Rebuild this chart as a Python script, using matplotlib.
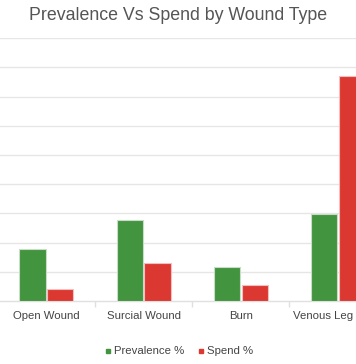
import matplotlib
matplotlib.use("Agg")
import matplotlib.pyplot as plt
import matplotlib.transforms as mtransforms
import numpy as np

plt.rcParams['font.family'] = ['Liberation Sans', 'DejaVu Sans']

categories = ["Open Wound", "Surcial Wound", "Burn", "Venous Leg"]
prevalence = [8.9, 13.9, 5.8, 14.9]
spend = [2.0, 6.5, 2.8, 38.5]
series_names = ["Prevalence %", "Spend %"]
colors = ["#43943f", "#dc3832"]

fig = plt.figure(figsize=(3.56, 3.64), dpi=100)
ax = fig.add_axes([0, (364 - 301) / 364, 1, (301 - 38.3) / 364])

x = np.arange(len(categories))
w = 0.27
off = 0.143
ax.bar(x - off, prevalence, w, color=colors[0], edgecolor="#c8dcc8", linewidth=0.8, zorder=3)
ax.bar(x + off, spend, w, color=colors[1], edgecolor="#f0c0c0", linewidth=0.8, zorder=3)

ax.set_yticks(np.arange(5, 46, 5))
ax.yaxis.grid(True, color="#e6e6e6", linewidth=1, zorder=0)
ax.tick_params(axis='y', length=0, labelleft=False)
for s in ["left", "right", "top"]:
    ax.spines[s].set_visible(False)
ax.spines["bottom"].set_color("#e0e0e0")
ax.spines["bottom"].set_linewidth(1)

ax.set_xticks(x + 0.5, minor=False)
ax.set_xticklabels([])
ax.tick_params(axis='x', length=4, color="#e0e0e0", width=1)
ax.set_xlim(-0.477, 3.185)
ax.set_ylim(0, 45)
label_y = 1 - 316 / 364
blend = mtransforms.blended_transform_factory(ax.transData, fig.transFigure)
for i, c in enumerate(categories):
    if i == len(categories) - 1:
        fig.text(353 / 356, label_y, c, ha="right", va="center", fontsize=8.2, color="#444444")
    else:
        ax.text(i, label_y, c, ha="center", va="center", fontsize=8.2, color="#444444",
                transform=blend)

fig.text(0.5, 1 - 16 / 364, "Prevalence Vs Spend by Wound Type", ha="center", va="center",
         fontsize=12.8, color="#555555")

# legend
ly = 1 - 351 / 364
fig.patches.append(plt.Rectangle((106 / 356, ly - 2 / 364), 4 / 356, 4 / 364,
                                 transform=fig.transFigure, color=colors[0]))
fig.text(114 / 356, ly, series_names[0], ha="left", va="center", fontsize=8.2, color="#444444")
fig.patches.append(plt.Rectangle((199 / 356, ly - 2 / 364), 4 / 356, 4 / 364,
                                 transform=fig.transFigure, color=colors[1]))
fig.text(207 / 356, ly, series_names[1], ha="left", va="center", fontsize=8.2, color="#444444")

fig.savefig("out.png", dpi=100)
